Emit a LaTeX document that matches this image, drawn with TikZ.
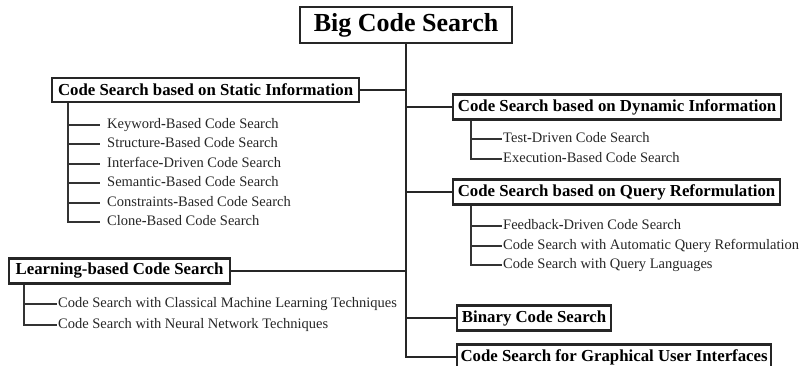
\documentclass[tikz,border=0pt]{standalone}
\usepackage{fontspec}
\setmainfont{Liberation Serif}
\begin{document}
\begin{tikzpicture}[x=1pt,y=-1pt,
  box/.style={draw=black!85, line width=2.2pt, font=\fontsize{16.8}{18}\selectfont\bfseries, inner sep=0pt, anchor=west, minimum height=25pt},
  item/.style={font=\fontsize{14.5}{16}\selectfont, text=black!85, inner sep=0pt, anchor=west, text height=0.66em, text depth=0em},
  conn/.style={line width=2pt, draw=black!85},
  sub/.style={line width=1.8pt, draw=black!80}]
\useasboundingbox (0,0) rectangle (801,366);
% boxes
\node[box, minimum width=212pt, minimum height=36pt, font=\fontsize{26}{28}\selectfont\bfseries] (main) at (299,25) {Big Code Search};
\node[box, minimum width=307pt, minimum height=24pt] (static) at (51,90) {Code Search based on Static Information};
\node[box, minimum width=328pt] (dyn) at (452,107) {Code Search based on Dynamic Information};
\node[box, minimum width=327pt] (query) at (452,192) {Code Search based on Query Reformulation};
\node[box, minimum width=221pt] (learn) at (8,271) {Learning-based Code Search};
\node[box, minimum width=154pt] (bin) at (456,318) {Binary Code Search};
\node[box, minimum width=314pt] (gui) at (456,357) {Code Search for Graphical User Interfaces};
% trunk and branches
\draw[conn] (main.south) |- (gui.west);
\draw[conn] (static.east) -- (static.east -| main.south);
\draw[conn] (dyn.west) -- (dyn.west -| main.south);
\draw[conn] (query.west) -- (query.west -| main.south);
\draw[conn] (learn.east) -- (learn.east -| main.south);
\draw[conn] (bin.west) -- (bin.west -| main.south);
% static items
\node[item] (s1) at (107,125) {Keyword\textbf{-}Based Code Search};
\node[item] (s2) at (107,144) {Structure\textbf{-}Based Code Search};
\node[item] (s3) at (107,164) {Interface\textbf{-}Driven Code Search};
\node[item] (s4) at (107,183) {Semantic\textbf{-}Based Code Search};
\node[item] (s5) at (107,203) {Constraints\textbf{-}Based Code Search};
\node[item] (s6) at (107,222) {Clone\textbf{-}Based Code Search};
\coordinate (sx) at (68,0);
\foreach \i in {1,...,6} \draw[sub] (sx |- static.south) |- ([xshift=-7pt]s\i.west);
% dynamic items
\node[item] (d1) at (503,139) {Test\textbf{-}Driven Code Search};
\node[item] (d2) at (503,159) {Execution\textbf{-}Based Code Search};
\coordinate (dx) at (471,0);
\foreach \i in {1,2} \draw[sub] (dx |- dyn.south) |- ([xshift=-1pt]d\i.west);
% query items
\node[item] (q1) at (503,226) {Feedback\textbf{-}Driven Code Search};
\node[item] (q2) at (503,246) {Code Search with Automatic Query Reformulation};
\node[item] (q3) at (503,265) {Code Search with Query Languages};
\coordinate (qx) at (471,0);
\foreach \i in {1,2,3} \draw[sub] (qx |- query.south) |- ([xshift=-1pt]q\i.west);
% learning items
\node[item] (l1) at (58,304) {Code Search with Classical Machine Learning Techniques};
\node[item] (l2) at (58,325) {Code Search with Neural Network Techniques};
\coordinate (lx) at (24,0);
\foreach \i in {1,2} \draw[sub] (lx |- learn.south) |- ([xshift=-1pt]l\i.west);
\end{tikzpicture}
\end{document}
